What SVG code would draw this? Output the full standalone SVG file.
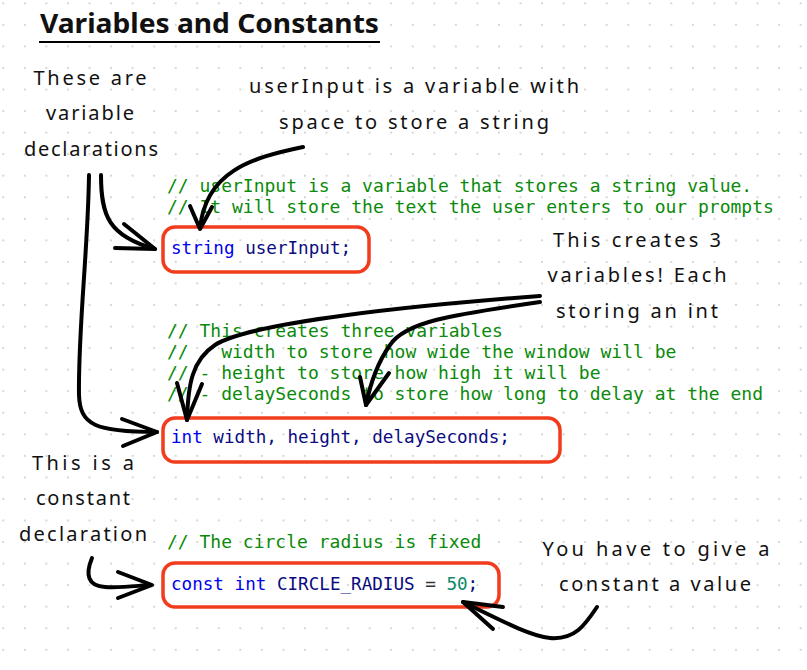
<svg xmlns="http://www.w3.org/2000/svg" width="807" height="670" viewBox="0 0 807 670">
<defs>
<pattern id="dots" x="-7.47" y="-7.47" width="21.55" height="21.55" patternUnits="userSpaceOnUse">
<circle cx="10.775" cy="10.775" r="0.9" fill="#c4c4c4"/>
</pattern>
<style>
.hand{font-family:"Noto Sans","Liberation Sans",sans-serif;font-size:20px;fill:#111;text-anchor:middle}
.title{font-family:"Noto Sans","Liberation Sans",sans-serif;font-size:26px;font-weight:bold;fill:#111}
.cm{font-family:"DejaVu Sans Mono","Liberation Mono",monospace;font-size:18px;fill:#0a8a0a}
.code{font-family:"DejaVu Sans Mono","Liberation Mono",monospace;font-size:17.6px;fill:#0b0b80}
.kw{fill:#0000f0}
.num{fill:#0b8a6a}
.op{fill:#333}
.box{fill:none;stroke:#f23c1e;stroke-width:3.5}
.ln{fill:none;stroke:#000;stroke-width:4;stroke-linecap:round;stroke-linejoin:round}
</style>
</defs>
<rect width="807" height="670" fill="#fff"/>
<rect width="807" height="670" fill="url(#dots)"/>

<g id="title">
<text class="title" x="40" y="33" textLength="339" lengthAdjust="spacingAndGlyphs">Variables and Constants</text>
<line x1="39" y1="42" x2="380" y2="42" stroke="#000" stroke-width="2"/>
</g>

<g id="label-variable-declarations">
<text class="hand" x="90" y="85" textLength="113">These are</text>
<text class="hand" x="90" y="120" textLength="88">variable</text>
<text class="hand" x="91" y="156" textLength="134">declarations</text>
</g>

<g id="label-userinput">
<text class="hand" x="414" y="93" textLength="330">userInput is a variable with</text>
<text class="hand" x="414" y="129" textLength="270">space to store a string</text>
</g>

<g id="label-three-variables">
<text class="hand" x="637" y="247" textLength="168">This creates 3</text>
<text class="hand" x="637" y="282" textLength="179">variables! Each</text>
<text class="hand" x="637" y="318" textLength="162">storing an int</text>
</g>

<g id="label-constant-declaration">
<text class="hand" x="83" y="470" textLength="102">This is a</text>
<text class="hand" x="83" y="505" textLength="94">constant</text>
<text class="hand" x="83" y="541" textLength="128">declaration</text>
</g>

<g id="label-give-value">
<text class="hand" x="656" y="556" textLength="227">You have to give a</text>
<text class="hand" x="655" y="591" textLength="192">constant a value</text>
</g>

<g id="code-string">
<text class="cm" x="167" y="192">// userInput is a variable that stores a string value.</text>
<text class="cm" x="167" y="213">// It will store the text the user enters to our prompts</text>
<rect class="box" x="163" y="227" width="206" height="45" rx="12"/>
<text class="code" x="171" y="254"><tspan class="kw">string</tspan> userInput;</text>
</g>

<g id="code-int">
<text class="cm" x="167" y="337">// This creates three variables</text>
<text class="cm" x="167" y="358">// - width to store how wide the window will be</text>
<text class="cm" x="167" y="379">// - height to store how high it will be</text>
<text class="cm" x="167" y="400">// - delaySeconds to store how long to delay at the end</text>
<rect class="box" x="163" y="418" width="397" height="44" rx="12"/>
<text class="code" x="171" y="443"><tspan class="kw">int</tspan> width, height, delaySeconds;</text>
</g>

<g id="code-const">
<text class="cm" x="167" y="548">// The circle radius is fixed</text>
<rect class="box" x="163" y="563" width="336" height="44" rx="12"/>
<text class="code" x="171" y="590"><tspan class="kw">const int</tspan> CIRCLE_RADIUS <tspan class="op">=</tspan> <tspan class="num">50</tspan>;</text>
</g>

<g id="connectors">
<path class="ln" d="M303,147 C250,158 206,172 200,228"/>
<path class="ln" d="M190,206 L200,229 L212,207"/>

<path class="ln" d="M101,175 C101,215 108,236 155,249"/>
<path class="ln" d="M124,224 L155,249 L115,248"/>

<path class="ln" d="M89,175 C88,250 78,330 79,395 C80,425 95,432 157,432"/>
<path class="ln" d="M122,419 L157,432 L123,446"/>

<path class="ln" d="M540,296 C420,305 250,322 215,345 C192,360 188,385 187,420"/>
<path class="ln" d="M177,383 L187,420 L202,384"/>

<path class="ln" d="M540,302 C450,315 405,322 390,345 C378,362 370,385 366,405"/>
<path class="ln" d="M360,377 L366,405 L389,373"/>

<path class="ln" d="M92,558 C85,575 88,586 105,587 C120,588 135,586 150,585"/>
<path class="ln" d="M118,572 L152,585 L118,598"/>

<path class="ln" d="M597,607 C585,625 575,640 550,638 C530,636 500,620 463,602"/>
<path class="ln" d="M503,607 L463,602 L493,629"/>
</g>
</svg>
